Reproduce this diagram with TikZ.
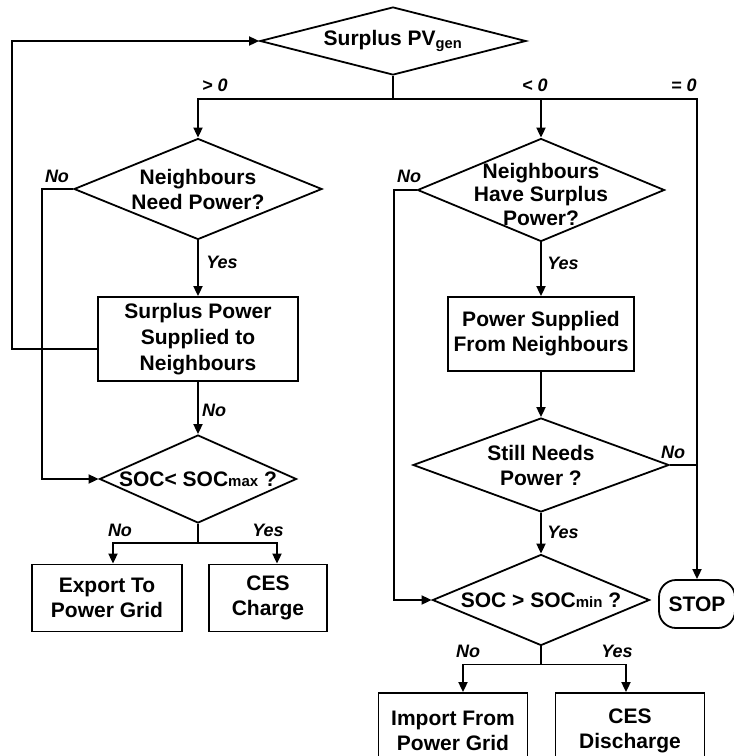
\documentclass[tikz,border=0pt]{standalone}
\usepackage{fontspec}
\setmainfont{Liberation Sans}
\usetikzlibrary{positioning,arrows.meta,shapes.geometric}

\newcommand{\boxfont}{\fontsize{21}{25}\selectfont\bfseries}
\newcommand{\ansfont}{\fontsize{18}{18}\selectfont\bfseries\itshape}
\newcommand{\smallsub}[1]{{\fontsize{15}{15}\selectfont #1}}

\begin{document}
\begin{tikzpicture}[
        x=1pt, y=-1pt,
        decision/.style={draw, diamond, inner sep=0pt, line width=1.8pt, align=center, font=\boxfont},
        process/.style={draw, rectangle, inner sep=0pt, line width=1.8pt, align=center, font=\boxfont},
        stopbox/.style={draw, rectangle, rounded corners=17pt, inner sep=0pt, line width=1.8pt, font=\boxfont},
        answer/.style={inner sep=0pt, font=\ansfont},
        wire/.style={line width=1.8pt},
        link/.style={-{Triangle[length=10pt, width=9pt]}, line width=1.8pt}
    ]
        \useasboundingbox (0,0) rectangle (734,756);

        % decisions and actions
        \node[decision, minimum width=266pt, minimum height=68pt, aspect=3.9] (pv) at (393,41) {Surplus PV\textsubscript{gen}};

        \node[decision, minimum width=248pt, minimum height=101pt, aspect=2.46] (need) at (198,189) {Neighbours\\Need Power?};
        \node[decision, minimum width=247pt, minimum height=103pt, aspect=2.4] (have) at (541,190)
            {\raisebox{-12pt}[0pt][0pt]{\def\arraystretch{0.94}\begin{tabular}{@{}c@{}}Neighbours\\Have Surplus\\Power?\end{tabular}}};

        \node[process, minimum width=200pt, minimum height=84pt] (supply) at (198,339) {Surplus Power\\[1pt]Supplied to\\[1pt]Neighbours};
        \node[process, minimum width=186pt, minimum height=74pt] (fromnb) at (541,334) {Power Supplied\\From Neighbours};

        \node[decision, minimum width=256pt, minimum height=94pt, aspect=2.72] (still) at (541,465) {Still Needs\\Power ?};
        \node[decision, minimum width=197pt, minimum height=88pt, aspect=2.24] (socmax) at (198,479) {SOC< SOC\smallsub{max} ?};
        \node[decision, minimum width=217pt, minimum height=91pt, aspect=2.38] (socmin) at (541,600) {SOC > SOC\smallsub{min} ?};

        \node[stopbox, minimum width=76pt, minimum height=48pt] (stop) at (697,604) {STOP};

        \node[process, minimum width=150pt, minimum height=67pt] (export) at (107,598) {Export To\\Power Grid};
        \node[process, minimum width=118pt, minimum height=67pt] (charge) at (268,598) {CES\\Charge};
        \node[process, minimum width=149pt, minimum height=76pt] (import) at (453,731) {Import From\\Power Grid};
        \node[process, minimum width=149pt, minimum height=76pt] (discharge) at (630,731) {CES\\Discharge};

        % answers on the branches
        \node[answer] (gt) at (215,85) {> 0};
        \node[answer] (lt) at (535,85) {< 0};
        \node[answer] (eq) at (684,85) {= 0};
        \node[answer] (needno) at (57,176) {No};
        \node[answer] (haveno) at (409,176) {No};
        \node[answer] (needyes) at (222,262) {Yes};
        \node[answer] (haveyes) at (563,263) {Yes};
        \node[answer] (supplyno) at (214,410) {No};
        \node[answer] (stillno) at (673,452) {No};
        \node[answer] (stillyes) at (563,532) {Yes};
        \node[answer] (maxno) at (120,530) {No};
        \node[answer] (maxyes) at (268,530) {Yes};
        \node[answer] (minno) at (468,651) {No};
        \node[answer] (minyes) at (617,651) {Yes};

        % connectors
        \draw[wire] (pv.south) -- ++(0,23) coordinate (split);
        \draw[link] (split) -| (need.north);
        \draw[link] (split) -| (have.north);
        \draw[link] (split) -| (stop.north);

        \draw[link] ([yshift=-10pt]supply.west) -- ++(-85,0) |- (pv.west);
        \draw[link] (need.west) -- ++(-31,0) |- (socmax.west);
        \draw[link] (have.west) -- ++(-23,0) |- (socmin.west);

        \draw[link] (need.south) -- (supply.north);
        \draw[link] (supply.south) -- (socmax.north);
        \draw[link] (have.south) -- (fromnb.north);
        \draw[link] (fromnb.south) -- (still.north);
        \draw[link] (still.south) -- (socmin.north);
        \draw[wire] (still.east) -- (still.east -| stop.north);

        \draw[wire] (socmax.south) -- ++(0,19) coordinate (leftfork);
        \draw[link] (leftfork) -| ([xshift=6pt]export.north);
        \draw[link] (leftfork) -| ([xshift=9pt]charge.north);

        \draw[wire] (socmin.south) -- ++(0,18) coordinate (rightfork);
        \draw[link] (rightfork) -| ([xshift=10pt]import.north);
        \draw[link] (rightfork) -| ([xshift=-4pt]discharge.north);
    \end{tikzpicture}
\end{document}
